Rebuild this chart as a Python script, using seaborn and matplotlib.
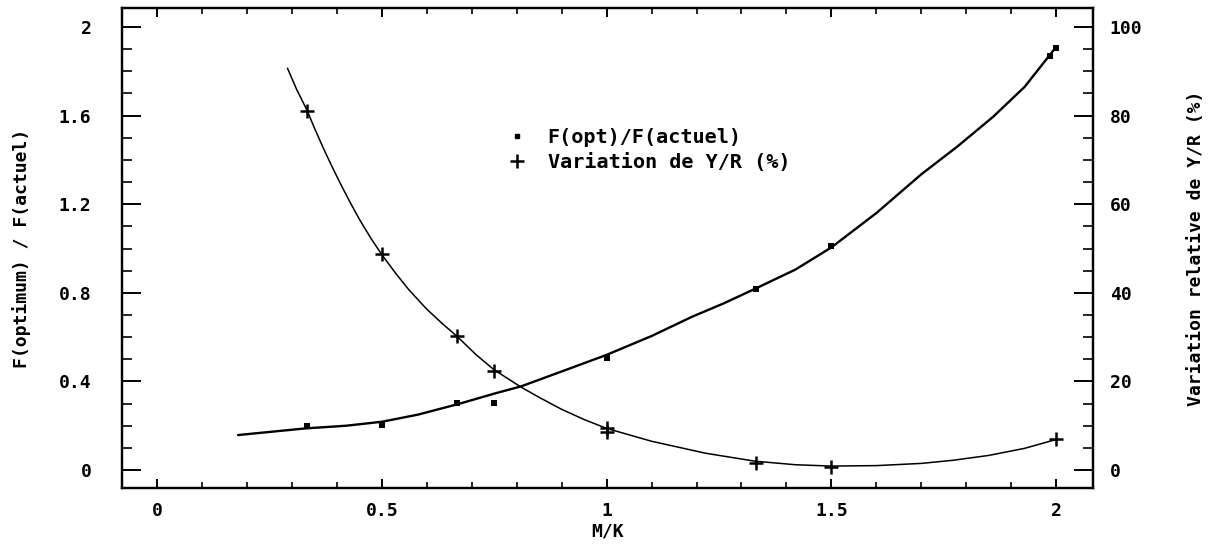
import matplotlib
matplotlib.use("Agg")
import matplotlib.pyplot as plt
import seaborn as sns
import pandas as pd
from matplotlib.ticker import MultipleLocator
from matplotlib.lines import Line2D

# measured points
mk_pts = [0.333, 0.5, 0.667, 0.75, 1.0, 1.333, 1.5, 1.987, 2.0]
f_ratio = [0.199, 0.203, 0.304, 0.304, 0.507, 0.816, 1.013, 1.87, 1.904]

mk_var = [0.333, 0.5, 0.667, 0.75, 1.0, 1.0, 1.333, 1.5, 2.0]
var_yr = [81.0, 48.8, 30.3, 22.4, 9.5, 8.6, 1.7, 0.8, 6.9]

# fitted curves
f_curve_x = [0.18, 0.25, 0.33, 0.42, 0.5, 0.58, 0.67, 0.75, 0.81, 0.9, 1.0, 1.1,
             1.19, 1.26, 1.33, 1.42, 1.5, 1.6, 1.7, 1.78, 1.86, 1.93, 2.0]
f_curve_y = [0.158, 0.172, 0.188, 0.2, 0.218, 0.25, 0.298, 0.345, 0.378, 0.445,
             0.52, 0.605, 0.692, 0.752, 0.818, 0.905, 1.005, 1.16, 1.335, 1.46,
             1.595, 1.73, 1.91]

v_curve_x = [0.29, 0.31, 0.333, 0.35, 0.37, 0.39, 0.41, 0.43, 0.45, 0.475, 0.5,
             0.53, 0.56, 0.6, 0.635, 0.667, 0.71, 0.75, 0.81, 0.85, 0.9, 0.95,
             1.0, 1.1, 1.22, 1.33, 1.42, 1.5, 1.6, 1.7, 1.77, 1.85, 1.93, 2.0]
v_curve_y = [90.7, 86.0, 81.3, 77.2, 72.6, 68.3, 64.2, 60.3, 56.6, 52.4, 48.6,
             44.5, 40.7, 36.3, 33.0, 30.2, 26.0, 22.6, 18.7, 16.4, 13.7, 11.4,
             9.4, 6.5, 3.8, 2.0, 1.2, 0.9, 1.0, 1.5, 2.2, 3.3, 4.9, 6.9]

sns.set_theme(style="ticks")
plt.rcParams['font.family'] = ['DejaVu Sans Mono', 'DejaVu Sans']
plt.rcParams['font.weight'] = 'bold'
plt.rcParams['text.color'] = 'black'
plt.rcParams['axes.labelcolor'] = 'black'
plt.rcParams['xtick.color'] = 'black'
plt.rcParams['ytick.color'] = 'black'

fig = plt.figure(figsize=(12.23, 5.48), dpi=100)
ax = fig.add_axes([0.0998, 0.1095, 0.7939, 0.876])
ax2 = ax.twinx()

fdf = pd.DataFrame({"x": f_curve_x, "y": f_curve_y})
vdf = pd.DataFrame({"x": v_curve_x, "y": v_curve_y})

sns.lineplot(data=fdf, x="x", y="y", ax=ax, color="black", lw=1.7, sort=False)
sns.scatterplot(x=mk_pts, y=f_ratio, ax=ax, marker="s", s=14, color="black",
                edgecolor="black", linewidth=0)

sns.lineplot(data=vdf, x="x", y="y", ax=ax2, color="black", lw=1.1, sort=False)
sns.scatterplot(x=mk_var, y=var_yr, ax=ax2, marker="+", s=110, color="black",
                linewidth=1.8)

ax.set_xlim(-0.078, 2.082)
ax.set_ylim(-0.081, 2.086)
ax2.set_ylim(-0.081 * 50, 2.086 * 50)

ax.xaxis.set_major_locator(MultipleLocator(0.5))
ax.xaxis.set_minor_locator(MultipleLocator(0.1))
ax.yaxis.set_major_locator(MultipleLocator(0.4))
ax.yaxis.set_minor_locator(MultipleLocator(0.1))
ax2.yaxis.set_major_locator(MultipleLocator(20))
ax2.yaxis.set_minor_locator(MultipleLocator(5))

ax.set_xticks([0, 0.5, 1, 1.5, 2])
ax.set_xticklabels(["0", "0.5", "1", "1.5", "2"])
ax.set_yticks([0, 0.4, 0.8, 1.2, 1.6, 2])
ax.set_yticklabels(["0", "0.4", "0.8", "1.2", "1.6", "2"])

ax.tick_params(axis="x", which="major", direction="in", length=6.5, width=1.4,
               top=True, labelsize=13, pad=10)
ax.tick_params(axis="x", which="minor", direction="in", length=4.3, width=1.2, top=True)
ax.tick_params(axis="y", which="major", direction="in", length=14, width=1.4,
               labelsize=13, pad=22)
ax.tick_params(axis="y", which="minor", direction="in", length=7, width=1.2)
ax2.tick_params(axis="y", which="major", direction="in", length=14, width=1.4,
                labelsize=13, pad=12)
ax2.tick_params(axis="y", which="minor", direction="in", length=7, width=1.2)

for a in (ax, ax2):
    for sp in a.spines.values():
        sp.set_visible(True)
        sp.set_linewidth(1.6)
        sp.set_color("black")

ax.set_xlabel("M/K", fontsize=13, fontweight="bold", labelpad=2)
ax.set_ylabel("F(optimum) / F(actuel)", fontsize=13, fontweight="bold", labelpad=20)
ax2.set_ylabel("Variation relative de Y/R (%)", fontsize=13, fontweight="bold",
               labelpad=32)

handles = [
    Line2D([], [], marker="s", color="black", ls="none", markersize=3.5),
    Line2D([], [], marker="+", color="black", ls="none", markersize=10, mew=1.8),
]
fig.legend(handles, ["F(opt)/F(actuel)", "Variation de Y/R (%)"],
           loc="upper left", bbox_to_anchor=(0.40, 0.80), frameon=False,
           prop={"family": "DejaVu Sans Mono", "weight": "bold", "size": 14.5},
           handlelength=1.0, handletextpad=1.0, labelspacing=0.3)

fig.savefig("out.png", dpi=100, facecolor="white")
